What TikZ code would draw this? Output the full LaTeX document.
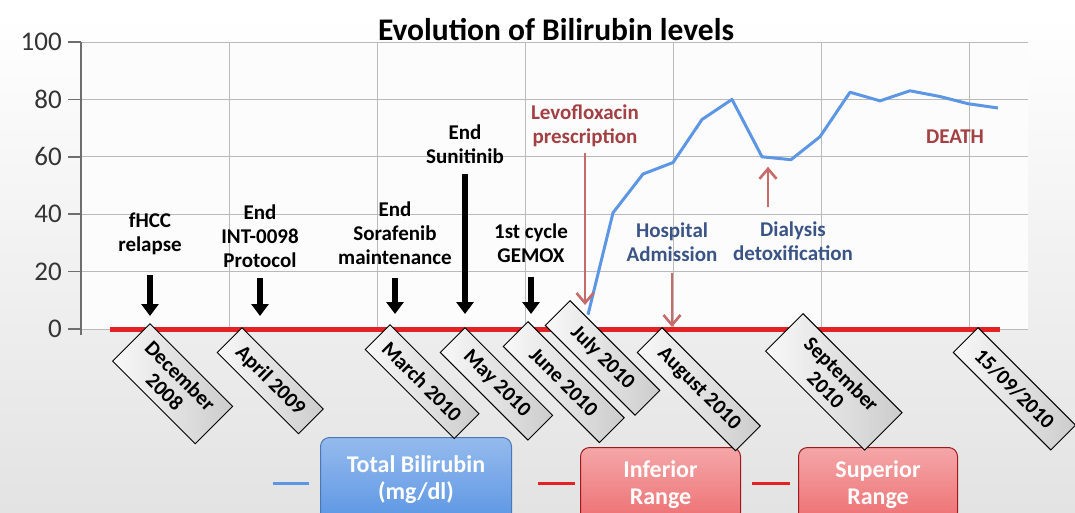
\documentclass[tikz,border=0pt]{standalone}
\usepackage{fontspec}
\setmainfont{Carlito}
\usetikzlibrary{arrows.meta}

\definecolor{bilblue}{RGB}{92,150,228}
\definecolor{rangered}{RGB}{228,34,38}
\definecolor{eventred}{RGB}{162,64,68}
\definecolor{eventarrow}{RGB}{198,106,106}
\definecolor{eventblue}{RGB}{58,84,134}
\definecolor{gridgray}{RGB}{186,186,186}
\definecolor{axisgray}{RGB}{110,110,110}
\definecolor{ticktext}{RGB}{52,52,52}

\begin{document}
\begin{tikzpicture}[x=1pt, y=-1pt, every node/.style={inner sep=0pt},
    evlabel/.style={align=center, font=\fontsize{21}{24}\selectfont\bfseries},
    blackarrow/.style={line width=6.5pt, -{Triangle[width=17pt,length=12pt]}},
    redarrow/.style={eventarrow, line width=2.6pt, -{Straight Barb[width=17pt,length=10pt,line width=2.6pt]}},
    datebox/.style={draw=black, line width=0.9pt, left color=gray!5, right color=gray!40, anchor=north west, rotate=-45, align=center, inner xsep=4pt, inner ysep=8pt, minimum height=35pt, font=\fontsize{21}{22}\selectfont\bfseries},
    legendbox/.style={rounded corners=9pt, line width=1pt, text=white, align=center, anchor=north west, font=\fontsize{24}{27}\selectfont\bfseries}]
        \path[use as bounding box, clip] (0,0) rectangle (1075,512);
        \shade[top color=white, bottom color=gray!22] (0,14) rectangle (1075,512);
        \fill[gray!2] (81,42) rectangle (1028,329);

        \node (title) at (556,30) [font=\fontsize{31.5}{33}\selectfont\bfseries] {Evolution of Bilirubin levels};

        \begin{scope}[shift={(0,329)}, y=2.87pt]
            \foreach \v in {0,20,...,100} {
                \draw[gridgray, line width=1pt] (81,\v) -- (1028,\v);
                \draw[axisgray, line width=1.6pt] (68,\v) -- (81,\v);
                \node[anchor=east, text=ticktext, font=\fontsize{27}{27}\selectfont] at (62,\v) {\v};
            }
            \foreach \gx in {229,377,525,673,821,969}
                \draw[gridgray, line width=1pt] (\gx,0) -- (\gx,100);
            \draw[axisgray, line width=1.6pt] (81,-2) -- (81,100);

            \draw[rangered, line width=5pt] (110,0) -- (1000,0);
            \draw[bilblue, line width=3pt, line join=round] plot coordinates {(588,5) (613,40.5) (643,54) (673,58) (702,73) (732,80) (762,60) (791,59) (820,67) (850,82.5) (880,79.5) (910,83) (940,81) (968,78.5) (998,77)};
            \coordinate (dip) at (768,60);
        \end{scope}

        \node (fhcc) at (150,234) [evlabel] {fHCC\\relapse};
        \node (int_end) at (260,236) [evlabel] {End\\INT-0098\\Protocol};
        \node (sorafenib_end) at (395,233) [evlabel] {End\\Sorafenib\\maintenance};
        \node (sunitinib_end) at (465,144) [evlabel] {End\\Sunitinib};
        \node (gemox) at (531,243) [evlabel] {1st cycle\\GEMOX};
        \node (levofloxacin) at (585,126) [evlabel, text=eventred] {Levofloxacin\\prescription};
        \node (hospital) at (672,242) [evlabel, text=eventblue] {Hospital\\Admission};
        \node (dialysis) at (793,241) [evlabel, text=eventblue] {Dialysis\\detoxification};
        \node (death) at (955,137) [evlabel, text=eventred] {DEATH};

        \coordinate (fhcc_tip) at (150,316);
        \coordinate (int_tip) at (260,316);
        \coordinate (sorafenib_tip) at (395,314);
        \coordinate (sunitinib_tip) at (465,314);
        \coordinate (gemox_tip) at (531,314);
        \coordinate (levofloxacin_tip) at (585,305);
        \coordinate (hospital_tip) at (672,327);

        \draw[blackarrow] ([yshift=-20pt]fhcc.south) -- (fhcc_tip);
        \draw[blackarrow] ([yshift=-10pt]int_end.south) -- (int_tip);
        \draw[blackarrow] ([yshift=-13pt]sorafenib_end.south) -- (sorafenib_tip);
        \draw[blackarrow] ([yshift=-10pt]sunitinib_end.south) -- (sunitinib_tip);
        \draw[blackarrow] ([yshift=-14pt]gemox.south) -- (gemox_tip);
        \draw[redarrow] ([yshift=-6pt]levofloxacin.south) -- (levofloxacin_tip);
        \draw[redarrow] ([yshift=-11pt]hospital.south) -- (hospital_tip);
        \draw[redarrow] ([yshift=14pt]dialysis.north -| dip) -- ([yshift=-10pt]dip);

        \draw[bilblue, line width=3pt] (273,483) -- (309,483);
        \node (total_bilirubin) at (320,437) [legendbox, draw=bilblue!80!black, top color=bilblue!65!white, bottom color=bilblue, minimum width=191pt, minimum height=84pt] {Total Bilirubin\\(mg/dl)};
        \draw[rangered, line width=3pt] (538,483) -- (575,483);
        \node (inferior_range) at (580,447) [legendbox, draw=rangered!70!black, top color=rangered!40!white, bottom color=rangered!65!white, minimum width=160pt, minimum height=74pt] {Inferior\\Range};
        \draw[rangered, line width=3pt] (752,483) -- (790,483);
        \node (superior_range) at (798,447) [legendbox, draw=rangered!70!black, top color=rangered!40!white, bottom color=rangered!65!white, minimum width=159pt, minimum height=74pt] {Superior\\Range};

        \node (dec08) at (150,323) [datebox, minimum width=117pt] {December\\2008};
        \node (apr09) at (242,327) [datebox, minimum width=115pt] {April 2009};
        \node (mar10) at (390,324) [datebox, minimum width=126pt] {March 2010};
        \node (may10) at (465,327) [datebox, minimum width=124pt] {May 2010};
        \node (jun10) at (528,321) [datebox, minimum width=136pt] {June 2010};
        \node (jul10) at (570,300) [datebox, minimum width=127pt] {July 2010};
        \node (aug10) at (662,327) [datebox, minimum width=139pt] {August 2010};
        \node (sep10) at (803,313) [datebox, minimum width=140pt] {September\\2010};
        \node (day_of_death) at (978,327) [datebox, minimum width=138pt] {15/09/2010};
    \end{tikzpicture}
\end{document}
